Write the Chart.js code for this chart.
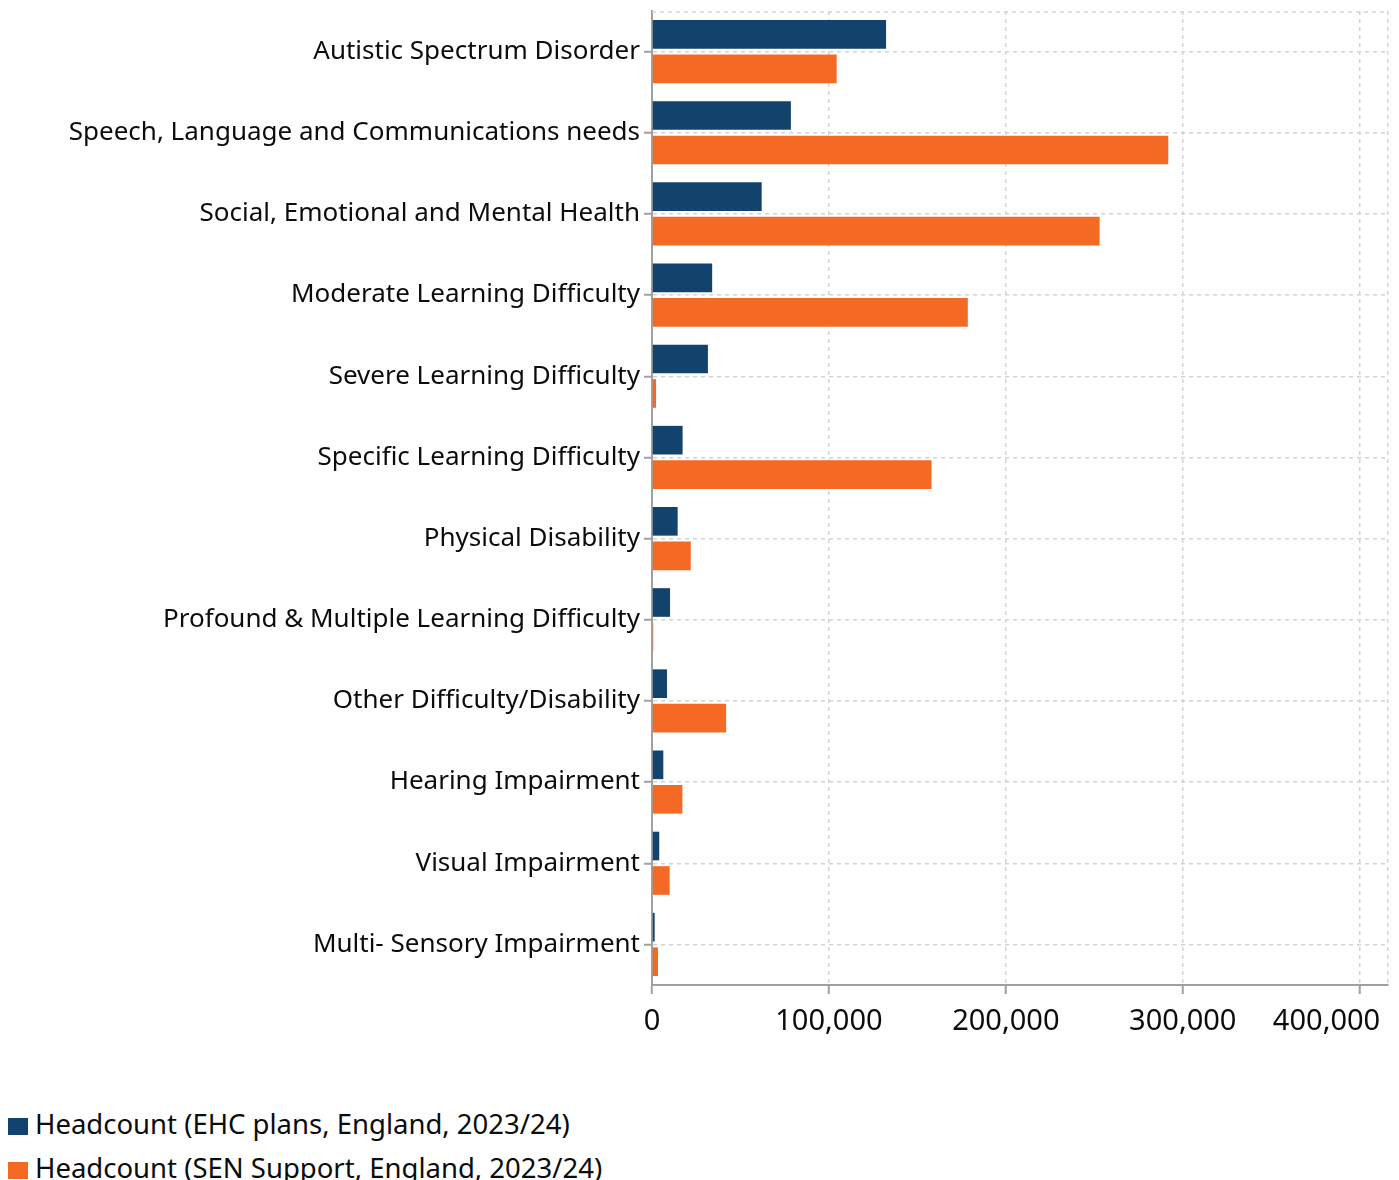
<!DOCTYPE html>
<html>
<head>
<meta charset="utf-8">
<script src="https://cdn.jsdelivr.net/npm/chart.js@4.4.1/dist/chart.umd.min.js"></script>
<style>
    body { margin: 0; background: #ffffff; font-family: "Noto Sans", sans-serif; color: #0b0c0c; }
    #wrap { position: relative; width: 1399px; height: 1180px; overflow: hidden; }
    #chartBox { position: absolute; left: 0; top: 0; width: 1399px; height: 1060px; }
    #legendBox { position: absolute; left: 8px; top: 1105px; }
    .legendItem { height: 44px; line-height: 38px; font-size: 27.5px; white-space: nowrap; }
    .legendSwatch { display: inline-block; width: 20px; height: 17px; margin-right: 7px; vertical-align: -1px; }
</style>
</head>
<body>
<div id="wrap">
    <div id="chartBox"><canvas id="senChart" width="1399" height="1060"></canvas></div>
    <div id="legendBox"></div>
</div>
<script>
// Categories (primary type of need):
var needs = [
    'Autistic Spectrum Disorder',
    'Speech, Language and Communications needs',
    'Social, Emotional and Mental Health',
    'Moderate Learning Difficulty',
    'Severe Learning Difficulty',
    'Specific Learning Difficulty',
    'Physical Disability',
    'Profound & Multiple Learning Difficulty',
    'Other Difficulty/Disability',
    'Hearing Impairment',
    'Visual Impairment',
    'Multi- Sensory Impairment'
];

// Series values (headcount):
var ehcPlans   = [132300, 78500, 62000, 34000, 31600, 17300, 14500, 10200, 8500, 6400, 4100, 1500];
var senSupport = [104400, 291800, 253000, 178500, 2300, 158000, 21900, 700, 41900, 17200, 10000, 3400];

var seriesNames = ['Headcount (EHC plans, England, 2023/24)', 'Headcount (SEN Support, England, 2023/24)'];
var seriesColors = ['#12436D', '#F46A25'];

// X axis ticks (last one is the unlabelled end of the axis):
var xTicks = [0, 100000, 200000, 300000, 400000, 416000];
var xMax = 416000;
var xLastLabel = 400000;

var textColor = '#0b0c0c';
var gridColor = '#d3d3d3';
var axisColor = '#a0a0a0';

/**
 * Dashed line along the top of the plot area (frame of the original chart).
 */
var topFramePlugin = {
    id: 'topFrame',
    beforeDatasetsDraw: function (chart) {
        var ctx = chart.ctx;
        var area = chart.chartArea;
        ctx.save();
        ctx.strokeStyle = gridColor;
        ctx.lineWidth = 1.5;
        ctx.setLineDash([4, 4]);
        ctx.beginPath();
        ctx.moveTo(area.left, area.top + 1);
        ctx.lineTo(area.right, area.top + 1);
        ctx.stroke();
        ctx.restore();
    }
};

/**
 * Formats x tick labels; the last labelled tick is pushed left so it stays inside the picture.
 */
function formatXTick(value) {
    if (value > xLastLabel)
        return '';
    var text = value.toLocaleString('en-GB');
    if (value === xLastLabel)
        text = text + '\u2007\u2007\u2007\u2007';
    return text;
}

function buildLegend() {
    var box = document.getElementById('legendBox');
    for (var i = 0; i < seriesNames.length; i++) {
        var item = document.createElement('div');
        item.className = 'legendItem';
        var sw = document.createElement('span');
        sw.className = 'legendSwatch';
        sw.style.background = seriesColors[i];
        item.appendChild(sw);
        item.appendChild(document.createTextNode(seriesNames[i]));
        box.appendChild(item);
    }
}

function drawChart() {
    var ctx = document.getElementById('senChart').getContext('2d');

    new Chart(ctx, {
        type: 'bar',
        data: {
            labels: needs,
            datasets: [
                { label: seriesNames[0], data: ehcPlans, backgroundColor: seriesColors[0] },
                { label: seriesNames[1], data: senSupport, backgroundColor: seriesColors[1] }
            ]
        },
        options: {
            indexAxis: 'y',
            responsive: false,
            animation: false,
            barPercentage: 0.83,
            categoryPercentage: 0.85,
            layout: { padding: { top: 11, right: 11, left: 0, bottom: 0 } },
            plugins: {
                legend: { display: false },
                tooltip: { enabled: false }
            },
            scales: {
                x: {
                    min: 0,
                    max: xMax,
                    afterFit: function (scale) { scale.height = 75; },
                    afterBuildTicks: function (scale) {
                        scale.ticks = xTicks.map(function (v) { return { value: v }; });
                    },
                    ticks: {
                        maxRotation: 0,
                        autoSkip: false,
                        padding: 10,
                        color: textColor,
                        font: { family: 'Noto Sans', size: 29 },
                        callback: function (value) { return formatXTick(value); }
                    },
                    grid: {
                        color: gridColor,
                        lineWidth: 1.5,
                        tickLength: 9,
                        tickWidth: 2,
                        tickColor: function (c) { return (c.tick && c.tick.value > xLastLabel) ? 'rgba(0,0,0,0)' : axisColor; }
                    },
                    border: { color: axisColor, width: 2, dash: [4, 4] }
                },
                y: {
                    afterFit: function (scale) {
                        scale.width = 652;
                        scale.paddingTop = 0;
                        scale.paddingBottom = 0;
                    },
                    ticks: {
                        padding: 4,
                        color: textColor,
                        font: { family: 'Noto Sans', size: 26 }
                    },
                    grid: {
                        offset: false,
                        color: gridColor,
                        lineWidth: 1.5,
                        tickLength: 8,
                        tickWidth: 2,
                        tickColor: axisColor
                    },
                    border: { color: axisColor, width: 2, dash: [4, 4] }
                }
            }
        },
        plugins: [topFramePlugin]
    });
}

buildLegend();
drawChart();
</script>
</body>
</html>
